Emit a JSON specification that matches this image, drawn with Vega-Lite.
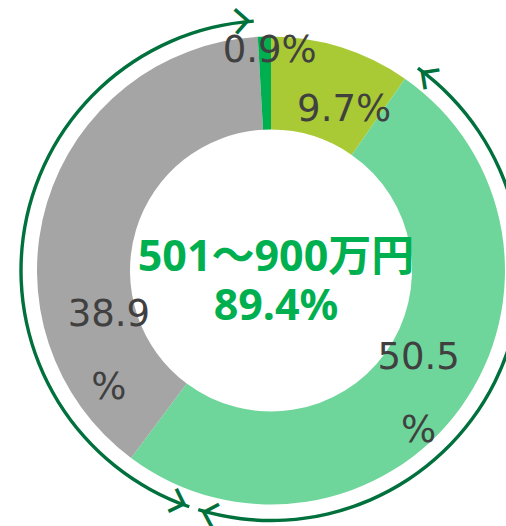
{
  "$schema": "https://vega.github.io/schema/vega-lite/v6.json",
  "width": 470,
  "height": 511,
  "autosize": {"type": "none"},
  "padding": {"left": 36, "top": 15, "right": 0, "bottom": 0},
  "background": "white",
  "config": {"view": {"stroke": null}},
  "datasets": {
    "shares": [
      {"category": "～500万円", "pct": 9.7, "ord": 1, "label": "9.7%"},
      {"category": "501～700万円", "pct": 50.5, "ord": 2, "label": "50.5\n%"},
      {"category": "701～900万円", "pct": 38.9, "ord": 3, "label": "38.9\n%"},
      {"category": "901万円～", "pct": 0.9, "ord": 4, "label": "0.9%"}
    ],
    "spans": [
      {"span": "501～700万円", "start": 10.0, "end": 54.7},
      {"span": "701～900万円", "start": 55.3, "end": 98.9}
    ],
    "summary": [{"title": "501～900万円", "share": "89.4%"}]
  },
  "resolve": {"scale": {"angle": "independent"}},
  "layer": [
    {
      "data": {"name": "shares"},
      "mark": {"type": "arc", "outerRadius": 234, "innerRadius": 141, "stroke": null},
      "encoding": {
        "theta": {"field": "pct", "type": "quantitative", "stack": true, "scale": {"domain": [0, 100]}},
        "order": {"field": "ord", "type": "quantitative"},
        "color": {
          "field": "category",
          "type": "nominal",
          "scale": {
            "domain": ["～500万円", "501～700万円", "701～900万円", "901万円～"],
            "range": ["#A9CA35", "#6ED69A", "#A5A5A5", "#00B050"]
          },
          "legend": null
        }
      }
    },
    {
      "data": {"name": "shares"},
      "mark": {
        "type": "text",
        "radius": 187,
        "font": "DejaVu Sans",
        "fontSize": 37,
        "color": "#404040",
        "lineBreak": "\n",
        "lineHeight": 73,
        "align": "center",
        "baseline": "middle",
        "dx": {"expr": "datum.ord == 1 ? 17 : datum.ord == 2 ? -4 : datum.ord == 3 ? 17 : 4"},
        "dy": {"expr": "datum.ord == 1 ? 18 : datum.ord == 2 ? -22 : datum.ord == 3 ? 98 : -33"}
      },
      "encoding": {
        "theta": {"field": "pct", "type": "quantitative", "stack": true, "scale": {"domain": [0, 100]}},
        "order": {"field": "ord", "type": "quantitative"},
        "detail": {"field": "category", "type": "nominal"},
        "text": {"field": "label", "type": "nominal"}
      }
    },
    {
      "data": {"name": "summary"},
      "mark": {
        "type": "text",
        "font": "Noto Sans, Noto Sans CJK JP",
        "fontWeight": "bold",
        "fontSize": 43,
        "color": "#00B050",
        "align": "center",
        "baseline": "middle",
        "dx": 5,
        "dy": -13
      },
      "encoding": {"text": {"field": "title", "type": "nominal"}}
    },
    {
      "data": {"name": "summary"},
      "mark": {
        "type": "text",
        "font": "Noto Sans, Noto Sans CJK JP",
        "fontWeight": "bold",
        "fontSize": 43,
        "color": "#00B050",
        "align": "center",
        "baseline": "middle",
        "dx": 5,
        "dy": 36
      },
      "encoding": {"text": {"field": "share", "type": "nominal"}}
    },
    {
      "data": {"name": "spans"},
      "mark": {"type": "arc", "outerRadius": 251.7, "innerRadius": 248.3, "color": "#00703C"},
      "encoding": {
        "theta": {"field": "start", "type": "quantitative", "stack": null, "scale": {"domain": [0, 100]}},
        "theta2": {"field": "end"}
      }
    },
    {
      "data": {"name": "spans"},
      "mark": {
        "type": "text",
        "radius": 250,
        "text": "∟",
        "font": "DejaVu Sans",
        "fontWeight": "bold",
        "fontSize": 30,
        "color": "#00703C",
        "align": "left",
        "baseline": "alphabetic"
      },
      "encoding": {
        "theta": {"field": "start", "type": "quantitative", "stack": null, "scale": {"domain": [0, 100]}},
        "angle": {"field": "start", "type": "quantitative", "scale": {"domain": [0, 100], "range": [45, 405]}, "legend": null}
      }
    },
    {
      "data": {"name": "spans"},
      "mark": {
        "type": "text",
        "radius": 250,
        "text": "∟",
        "font": "DejaVu Sans",
        "fontWeight": "bold",
        "fontSize": 30,
        "color": "#00703C",
        "align": "left",
        "baseline": "alphabetic"
      },
      "encoding": {
        "theta": {"field": "end", "type": "quantitative", "stack": null, "scale": {"domain": [0, 100]}},
        "angle": {"field": "end", "type": "quantitative", "scale": {"domain": [0, 100], "range": [-135, 225]}, "legend": null}
      }
    }
  ]
}
